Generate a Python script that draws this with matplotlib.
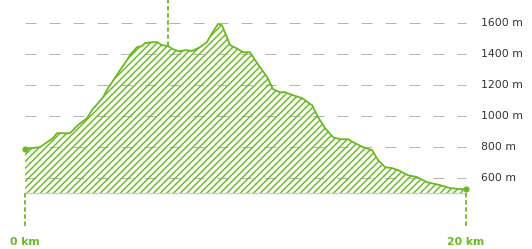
import matplotlib.pyplot as plt

# elevation profile
km = [0.0, 0.68, 1.27, 1.45, 2.04, 2.40, 2.81, 3.04, 3.54, 3.76, 3.95, 4.31, 4.63,
      4.76, 5.08, 5.31, 5.44, 5.80, 5.99, 6.21, 6.49, 6.71, 6.94, 7.35, 7.57, 7.94,
      8.25, 8.48, 8.75, 8.93, 9.12, 9.30, 9.66, 9.89, 10.20, 10.34, 10.66, 10.98,
      11.25, 11.56, 11.79, 12.15, 12.56, 13.02, 13.29, 13.61, 13.97, 14.29, 14.65,
      14.97, 15.33, 15.74, 16.01, 16.33, 16.64, 16.92, 17.37, 17.78, 18.23, 18.82,
      19.27, 19.73, 20.0]
elev = [786, 799, 857, 889, 889, 941, 986, 1038, 1122, 1180, 1219, 1297, 1362,
        1394, 1446, 1453, 1472, 1478, 1478, 1459, 1452, 1433, 1420, 1426, 1420, 1446,
        1478, 1536, 1594, 1588, 1523, 1459, 1433, 1413, 1413, 1381, 1316, 1252,
        1174, 1154, 1154, 1135, 1116, 1070, 993, 922, 863, 850, 850,
        824, 799, 779, 715, 669, 663, 650, 617, 605, 572, 553,
        534, 527, 527]

grid_levels = [600, 800, 1000, 1200, 1400, 1600]
grid_labels = ['600 m', '800 m', '1000 m', '1200 m', '1400 m', '1600 m']
base = 500
marker_km = 6.49
start_label, end_label = '0 km', '20 km'

GREEN = '#66bb1c'
DPI = 80
plt.rcParams['hatch.linewidth'] = 1.3
plt.rcParams['hatch.color'] = GREEN

fig = plt.figure(figsize=(532 / DPI, 249 / DPI), dpi=DPI)
ax = fig.add_axes([0, 0, 1, 1])
ax.axis('off')
ax.set_xlim(-25 / 22.05, (532 - 25) / 22.05)
ax.set_ylim(base - 55.7 * 6.47, base + 193.3 * 6.47)

# dashed grid + labels on the right
for lev, lab in zip(grid_levels, grid_labels):
    ax.plot([0, 20], [lev, lev], color='#b4b4b4', lw=0.9, dashes=(11, 13), zorder=1)
    ax.text(20.68, lev, lab, fontsize=9.75, color='#333333', va='center', ha='left')

ax.fill_between(km, elev, base, facecolor='none', edgecolor=GREEN, hatch='////',
                linewidth=0, zorder=2)
ax.plot([0, 20], [base, base], color='#cccccc', lw=1.2, zorder=3)
ax.plot(km, elev, color=GREEN, lw=1.6, zorder=4, solid_joinstyle='round')
ax.plot([km[0], km[-1]], [elev[0], elev[-1]], 'o', color=GREEN, ms=4.5, zorder=5)

# dashed markers
top = ax.get_ylim()[1]
ax.plot([marker_km, marker_km], [1450, top], color=GREEN, lw=1.6, dashes=(2.5, 1.5), zorder=4)
low = base - 35 * 6.47
for x in [0, 20]:
    ax.plot([x, x], [base, low], color=GREEN, lw=1.6, dashes=(2.5, 1.5), zorder=4)

lab_y = base - 49 * 6.47
ax.text(0, lab_y, start_label, color=GREEN, fontsize=9.75, fontweight='bold', ha='center', va='center')
ax.text(20, lab_y, end_label, color=GREEN, fontsize=9.75, fontweight='bold', ha='center', va='center')

fig.savefig('out.png', dpi=DPI)
